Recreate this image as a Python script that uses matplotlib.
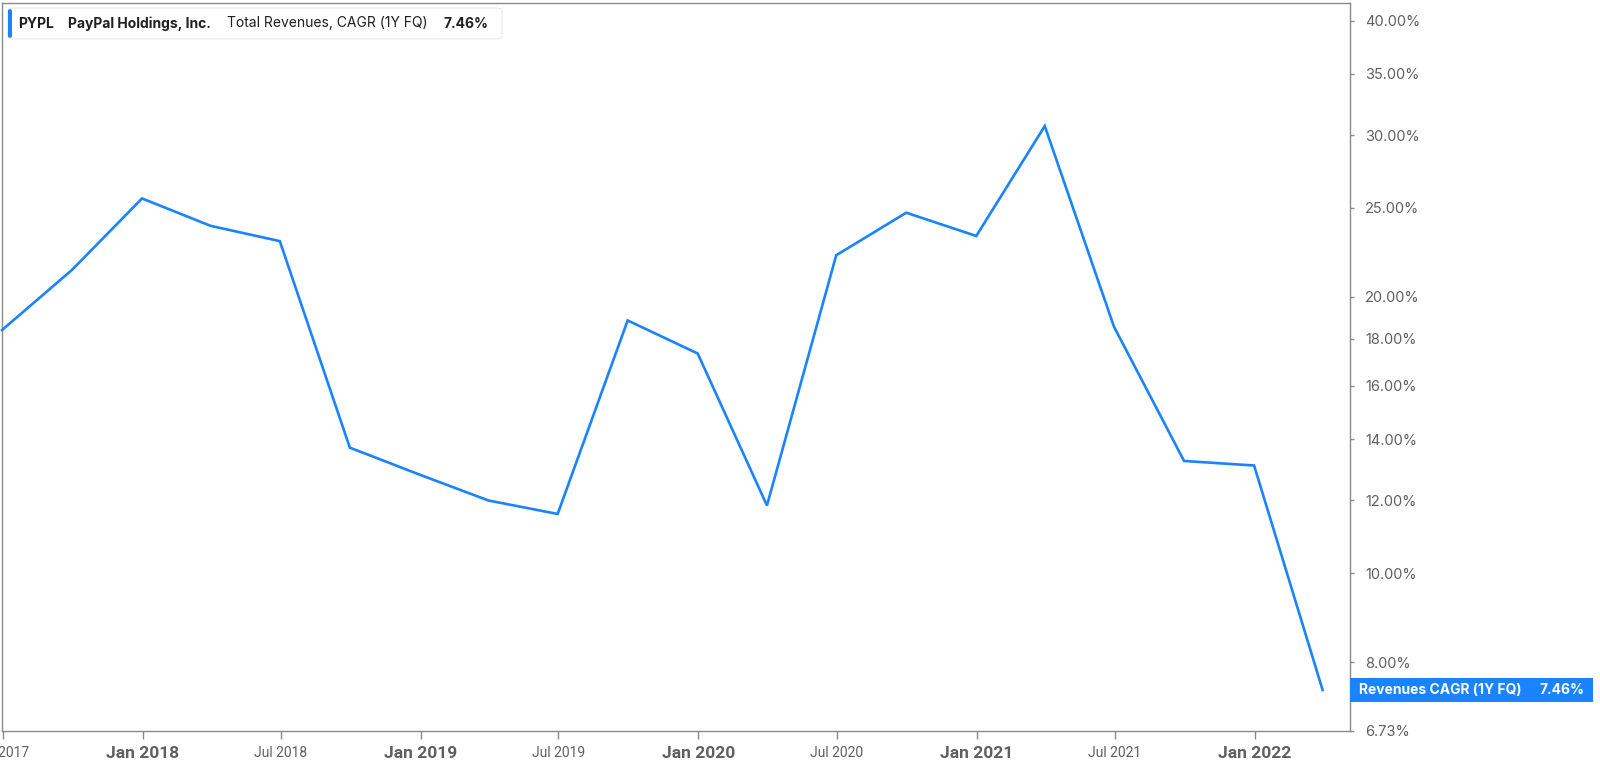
import matplotlib
matplotlib.use("Agg")
import matplotlib.pyplot as plt
from matplotlib.patches import FancyBboxPatch, Rectangle
import datetime as dt

# ---- data ----
quarter_ends = ["2017-06-30", "2017-09-30", "2017-12-31", "2018-03-31", "2018-06-30",
                "2018-09-30", "2018-12-31", "2019-03-31", "2019-06-30", "2019-09-30",
                "2019-12-31", "2020-03-31", "2020-06-30", "2020-09-30", "2020-12-31",
                "2021-03-31", "2021-06-30", "2021-09-30", "2021-12-31", "2022-03-31"]
cagr_pct = [18.4, 21.4, 25.6, 23.9, 23.0,
            13.7, 12.8, 12.0, 11.6, 18.85,
            17.35, 11.85, 22.2, 24.7, 23.3,
            30.7, 18.55, 13.25, 13.1, 7.46]
x_tick_dates = ["2017-07-01", "2018-01-01", "2018-07-01", "2019-01-01", "2019-07-01",
                "2020-01-01", "2020-07-01", "2021-01-01", "2021-07-01", "2022-01-01"]
x_tick_labels = ["Jul 2017", "Jan 2018", "Jul 2018", "Jan 2019", "Jul 2019",
                 "Jan 2020", "Jul 2020", "Jan 2021", "Jul 2021", "Jan 2022"]
y_ticks = [6.73, 8, 10, 12, 14, 16, 18, 20, 25, 30, 35, 40]
y_tick_labels = ["6.73%", "8.00%", "10.00%", "12.00%", "14.00%", "16.00%",
                 "18.00%", "20.00%", "25.00%", "30.00%", "35.00%", "40.00%"]
ticker = "PYPL"
company = "PayPal Holdings, Inc."
metric = "Total Revenues, CAGR (1Y FQ)"
last_label = "Revenues CAGR (1Y FQ)"
last_value = "7.46%"

BLUE = "#1A84FF"
GREY = "#5f5f5f"
SPINE = "#8a8a8a"

W, H = 1600, 769
fig = plt.figure(figsize=(W / 100, H / 100), dpi=100)
ax = fig.add_axes([2 / W, 1 - 731 / H, (1350 - 2) / W, (731 - 3) / H])

dates = [dt.datetime.strptime(d, "%Y-%m-%d") for d in quarter_ends]
ax.plot(dates, cagr_pct, color=BLUE, lw=1.9, solid_joinstyle="miter", clip_on=False, zorder=3)

ax.set_yscale("log")
ax.set_ylim(6.73, 41.8)
ax.set_xlim(dt.datetime(2017, 6, 30), dt.datetime(2022, 5, 6))

ax.yaxis.tick_right()
ax.set_yticks(y_ticks)
ax.set_yticklabels(y_tick_labels)
ax.yaxis.set_minor_locator(matplotlib.ticker.NullLocator())
ax.tick_params(axis="y", which="major", length=3, width=1, color=SPINE, pad=8,
               labelsize=10.5, labelcolor=GREY)
for t in ax.get_yticklabels():
    t.set_fontfamily(["Inter", "DejaVu Sans"])

xt = [dt.datetime.strptime(d, "%Y-%m-%d") for d in x_tick_dates]
ax.set_xticks(xt)
ax.set_xticklabels(x_tick_labels)
ax.xaxis.set_minor_locator(matplotlib.ticker.NullLocator())
ax.tick_params(axis="x", which="major", length=6, width=1, color=SPINE, pad=5, labelcolor=GREY)
for t, lab in zip(ax.get_xticklabels(), x_tick_labels):
    t.set_fontfamily(["Roboto", "DejaVu Sans"])
    if lab.startswith("Jan"):
        t.set_fontsize(12.5)
        t.set_fontweight("bold")
    else:
        t.set_fontsize(10)

for s in ax.spines.values():
    s.set_color(SPINE)
    s.set_linewidth(1)

# legend box top-left
box = FancyBboxPatch((8 / W, 1 - 39 / H), (502 - 8) / W, 31 / H,
                     boxstyle="round,pad=0,rounding_size=0.004", transform=fig.transFigure,
                     facecolor="white", edgecolor="#e6e6e6", lw=0.8, zorder=5)
fig.patches.append(box)
bar = FancyBboxPatch((8 / W, 1 - 38 / H), 4 / W, 29 / H,
                     boxstyle="round,pad=0,rounding_size=0.002", transform=fig.transFigure,
                     facecolor=BLUE, edgecolor="none", zorder=6)
fig.patches.append(bar)
ty = 1 - 23.5 / H
fkw = dict(fontsize=10, color="#1f1f1f", va="center", ha="left",
           family=["Inter", "DejaVu Sans"], zorder=8)
fig.text(18 / W, ty, ticker, fontweight="bold", **fkw)
fig.text(68 / W, ty, company, fontweight="bold", **fkw)
fig.text(227 / W, ty, metric, **fkw)
fig.text(443 / W, ty, last_value, fontweight="bold", **fkw)

# last value tag on right
tag = Rectangle((1350 / W, 1 - 702 / H), (1593 - 1350) / W, 24 / H,
                transform=fig.transFigure, facecolor=BLUE, edgecolor="none", zorder=6)
fig.patches.append(tag)
fig.text(1359 / W, 1 - 690 / H, last_label, color="white", fontsize=10, fontweight="bold",
         va="center", ha="left", family=["Inter", "DejaVu Sans"], zorder=8)
fig.text(1585 / W, 1 - 690 / H, last_value, color="white", fontsize=10, fontweight="bold",
         va="center", ha="right", family=["Inter", "DejaVu Sans"], zorder=8)

fig.savefig("out.png", dpi=100)
